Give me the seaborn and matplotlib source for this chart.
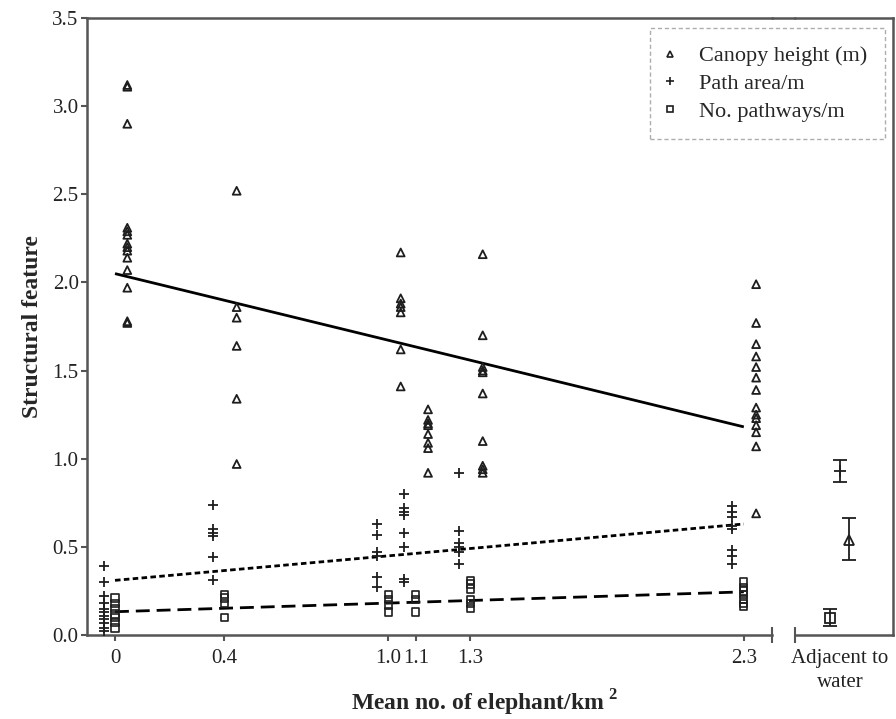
import numpy as np
import pandas as pd
import seaborn as sns
import matplotlib.pyplot as plt
from matplotlib.lines import Line2D

# elephant density groups
density = [0, 0.4, 1.0, 1.1, 1.3, 2.3]
density_labels = ['0', '0.4', '1.0', '1.1', '1.3', '2.3']

canopy = [
	[3.12, 3.11, 2.90, 2.31, 2.29, 2.27, 2.22, 2.20, 2.18, 2.14, 2.07, 1.97, 1.78, 1.77],
	[2.52, 1.86, 1.80, 1.64, 1.34, 0.97],
	[2.17, 1.91, 1.88, 1.86, 1.83, 1.62, 1.41],
	[1.28, 1.22, 1.20, 1.19, 1.14, 1.09, 1.06, 0.92],
	[2.16, 1.70, 1.52, 1.50, 1.49, 1.37, 1.10, 0.96, 0.94, 0.92],
	[1.99, 1.77, 1.65, 1.58, 1.52, 1.46, 1.39, 1.29, 1.25, 1.23, 1.19, 1.15, 1.07, 0.69],
]
path_area = [
	[0.39, 0.30, 0.22, 0.18, 0.15, 0.13, 0.11, 0.09, 0.07, 0.04, 0.02],
	[0.74, 0.60, 0.58, 0.56, 0.44, 0.31],
	[0.63, 0.57, 0.47, 0.45, 0.33, 0.27],
	[0.80, 0.72, 0.70, 0.68, 0.58, 0.50, 0.32, 0.30],
	[0.92, 0.59, 0.52, 0.50, 0.47, 0.40],
	[0.73, 0.70, 0.67, 0.62, 0.60, 0.48, 0.45, 0.40],
]
pathways = [
	[0.21, 0.18, 0.15, 0.12, 0.10, 0.07, 0.04],
	[0.23, 0.21, 0.18, 0.10],
	[0.23, 0.20, 0.17, 0.13],
	[0.23, 0.20, 0.13],
	[0.31, 0.29, 0.26, 0.20, 0.18, 0.15],
	[0.30, 0.27, 0.25, 0.23, 0.20, 0.18, 0.16],
]

# regression lines: intercept, slope
fit_intercept = {'canopy': 2.05, 'path': 0.31, 'pathways': 0.132}
fit_slope = {'canopy': -0.378, 'path': 0.139, 'pathways': 0.049}

# adjacent to water: mean, lower err, upper err
water_features = ['pathways', 'path', 'canopy']
water_mean = [0.095, 0.929, 0.538]
water_lo = [0.044, 0.061, 0.113]
water_hi = [0.051, 0.062, 0.128]

ink = '#1e1e1e'
spine_col = '#555555'
offsets = {'path': -0.042, 'pathways': 0.0, 'canopy': 0.045}
water_pos = {'pathways': -0.037, 'path': 0.0, 'canopy': 0.033}

rows = []
for feat, groups in [('canopy', canopy), ('path', path_area), ('pathways', pathways)]:
	for d, vals in zip(density, groups):
		for v in vals:
			rows.append([feat, d, d + offsets[feat], v])
df = pd.DataFrame(rows, columns=['feature', 'density', 'xpos', 'value'])

sns.set_style('ticks')
plt.rcParams['font.family'] = ['Liberation Serif', 'DejaVu Serif']
plt.rcParams['mathtext.fontset'] = 'custom'
plt.rcParams['mathtext.rm'] = 'Liberation Serif'
plt.rcParams['mathtext.bf'] = 'Liberation Serif:bold'

W, H = 896, 719
fig = plt.figure(figsize=(W / 100, H / 100), dpi=100)
x0, x1 = 87, 772
x2, x3 = 795, 893
ytop, ybot = 18, 635
ax = fig.add_axes([x0 / W, 1 - ybot / H, (x1 - x0) / W, (ybot - ytop) / H])
ax2 = fig.add_axes([x2 / W, 1 - ybot / H, (x3 - x2) / W, (ybot - ytop) / H])

upx = 273.4
ax.set_xlim(-(115 - x0) / upx, (x1 - 115) / upx)
ax2.set_xlim(-(840 - x2) / upx, (x3 - 840) / upx)
for a in (ax, ax2):
	a.set_ylim(0, 3.5)

sub = df[df.feature == 'canopy']
sns.scatterplot(data=sub, x='xpos', y='value', ax=ax, marker='^', s=32,
	facecolor='none', edgecolor=ink, linewidth=1.3, zorder=3)
sub = df[df.feature == 'path']
sns.scatterplot(data=sub, x='xpos', y='value', ax=ax, marker='+', s=45,
	color=ink, linewidth=1.3, zorder=3)
sub = df[df.feature == 'pathways']
sns.scatterplot(data=sub, x='xpos', y='value', ax=ax, marker='s', s=28,
	facecolor='none', edgecolor=ink, linewidth=1.2, zorder=3)

xs = np.array([density[0], density[-1]])
styles = {'canopy': (0, ()), 'path': (0, (2.0, 1.2)), 'pathways': (0, (5, 2.5))}
for feat in ['canopy', 'path', 'pathways']:
	ax.plot(xs, fit_intercept[feat] + fit_slope[feat] * xs, color='black',
		lw=2.0, linestyle=styles[feat], zorder=2)

mk = {'canopy': ('^', 7), 'path': ('+', 8), 'pathways': ('s', 7)}
for feat, m, lo, hi in zip(water_features, water_mean, water_lo, water_hi):
	ax2.errorbar([water_pos[feat]], [m], yerr=[[lo], [hi]], fmt=mk[feat][0],
		ms=mk[feat][1], mfc='none', mec=ink, mew=1.3, color=ink, ecolor=ink,
		elinewidth=1.3, capsize=5, capthick=1.3)

ax.set_xticks(density)
ax.set_xticklabels(density_labels)
ax.set_yticks(np.arange(0, 3.51, 0.5))
ax.set_yticklabels([f'{v:.1f}' for v in np.arange(0, 3.51, 0.5)])
ax.set_xticks([ax.get_xlim()[1]], minor=True)
ax.tick_params(axis='x', which='minor', direction='inout', length=12, width=1.5, color=spine_col)
ax.tick_params(axis='both', which='major', direction='out', length=4, width=1.5,
	color=spine_col, labelsize=15, labelcolor='#222222', pad=2)
ax.tick_params(axis='x', which='major', pad=6)
for s in ['left', 'bottom', 'top']:
	ax.spines[s].set_color(spine_col)
	ax.spines[s].set_linewidth(1.8)
ax.spines['right'].set_visible(False)

ax2.set_xticks([0])
ax2.set_xticklabels(['Adjacent to\nwater'], linespacing=1.35)
ax2.set_yticks([])
ax2.set_xticks([ax2.get_xlim()[0]], minor=True)
ax2.tick_params(axis='x', which='minor', direction='inout', length=12, width=1.5, color=spine_col)
ax2.tick_params(axis='x', which='major', length=0, labelsize=15, labelcolor='#222222', pad=10)
for s in ['right', 'bottom', 'top']:
	ax2.spines[s].set_color(spine_col)
	ax2.spines[s].set_linewidth(1.8)
ax2.spines['left'].set_visible(False)
ax2.set_xlabel('')
ax2.set_ylabel('')

# close the top frame across the gap
fig.add_artist(Line2D([x1 / W, x2 / W], [1 - ytop / H, 1 - ytop / H], color=spine_col, lw=1.8))

ax.set_xlabel('')
ax.set_ylabel('Structural feature', fontsize=17, fontweight='bold', labelpad=7)
fig.text(485 / W, 1 - 703 / H, 'Mean no. of elephant/km$^{\\mathbf{\\ 2}}$', ha='center', va='center',
	fontsize=17, fontweight='bold')

handles = [
	Line2D([], [], ls='none', marker='^', ms=5, mfc='none', mec=ink, mew=1.2),
	Line2D([], [], ls='none', marker='+', ms=6, color=ink, mew=1.2),
	Line2D([], [], ls='none', marker='s', ms=5, mfc='none', mec=ink, mew=1.2),
]
leg = fig.legend(handles, ['Canopy height (m)', 'Path area/m', 'No. pathways/m'],
	loc='upper right', bbox_to_anchor=(885 / W, 1 - 28 / H), fontsize=16,
	frameon=True, fancybox=False, handletextpad=1.25, borderpad=0.8, labelspacing=0.32,
	handlelength=0.15, borderaxespad=0)
fr = leg.get_frame()
fr.set_edgecolor('#999999')
fr.set_linestyle((0, (3, 2)))
fr.set_linewidth(1.0)

fig.savefig('out.png', dpi=100)
